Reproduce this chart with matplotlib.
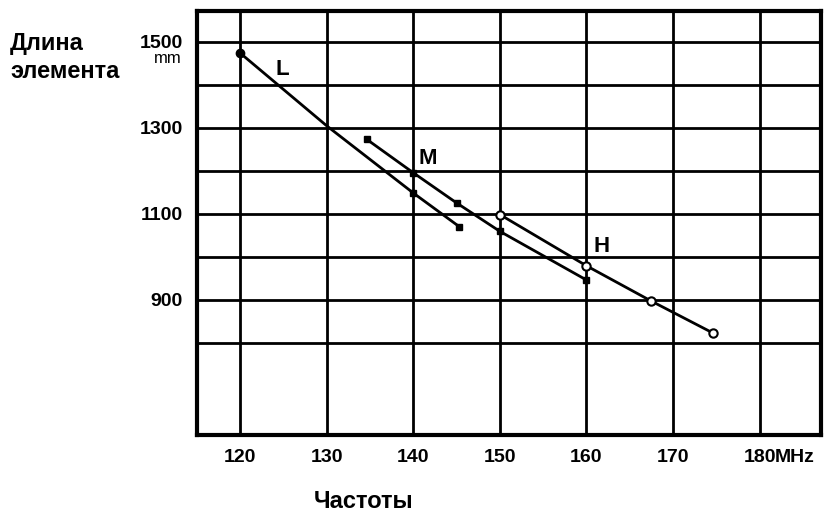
import matplotlib
matplotlib.use('Agg')
import matplotlib.pyplot as plt

# Data (frequency MHz, element length mm)
l_freq = [120, 130, 140, 145.3]
l_len = [1473, 1304, 1148, 1070]
m_freq = [134.6, 140, 145, 150, 160]
m_len = [1273, 1195, 1125, 1059, 946]
h_freq = [150, 160, 167.4, 174.6]
h_len = [1098, 979, 898, 823]

x_ticks = [120, 130, 140, 150, 160, 170, 180]
y_ticks = [900, 1100, 1300, 1500]
grid_y = [800, 900, 1000, 1100, 1200, 1300, 1400, 1500]

plt.rcParams['font.family'] = ['Liberation Sans', 'DejaVu Sans']

fig = plt.figure(figsize=(8.25, 5.23), dpi=100)
ax = fig.add_axes([0.2388, 0.1683, 0.9952 - 0.2388, 0.979 - 0.1683])
ax.set_xlim(115, 187.1)
ax.set_ylim(586, 1571)

# grid
for gx in x_ticks:
    ax.axvline(gx, color='black', lw=2.0, zorder=1)
for gy in grid_y:
    ax.axhline(gy, color='black', lw=2.0, zorder=1)

# curves
ax.plot(l_freq, l_len, color='black', lw=2.0, zorder=3)
ax.plot(l_freq[0], l_len[0], 'o', color='black', ms=6, zorder=4)
ax.plot(l_freq[2:], l_len[2:], 's', color='black', ms=5, zorder=4)

ax.plot(m_freq, m_len, color='black', lw=2.0, zorder=3)
ax.plot(m_freq, m_len, 's', color='black', ms=4, zorder=4)

ax.plot(h_freq, h_len, color='black', lw=2.0, zorder=3)
ax.plot(h_freq, h_len, 'o', mfc='white', mec='black', mew=1.5, ms=6, zorder=4)

# curve labels
ax.text(124.8, 1434, 'L', fontsize=16, fontweight='bold', ha='center', va='center')
ax.text(141.7, 1229, 'M', fontsize=16, fontweight='bold', ha='center', va='center')
ax.text(161.7, 1025, 'H', fontsize=16, fontweight='bold', ha='center', va='center')

# axes styling
for s in ax.spines.values():
    s.set_linewidth(3)
ax.set_xticks(x_ticks)
ax.set_xticklabels([str(v) for v in x_ticks])
ax.set_yticks(y_ticks)
ax.set_yticklabels([str(v) for v in y_ticks])
ax.tick_params(length=0, labelsize=14, pad=10)
for lab in ax.get_xticklabels() + ax.get_yticklabels():
    lab.set_fontweight('bold')

ax.annotate('MHz', xy=(180, 0), xycoords=('data', 'axes fraction'),
            xytext=(11, -10), textcoords='offset points', ha='left', va='top',
            fontsize=14, fontweight='bold')
ax.annotate('mm', xy=(0, 1500), xycoords=('axes fraction', 'data'),
            xytext=(-11, -7), textcoords='offset points', ha='right', va='top',
            fontsize=12)

fig.text(10 / 825, 1 - 32 / 523, 'Длина\nэлемента', ha='left', va='top',
         fontsize=17, fontweight='bold', linespacing=1.3)
fig.text(364 / 825, 1 - 502 / 523, 'Частоты', ha='center', va='center',
         fontsize=17, fontweight='bold')

fig.savefig('out.png', dpi=100)
